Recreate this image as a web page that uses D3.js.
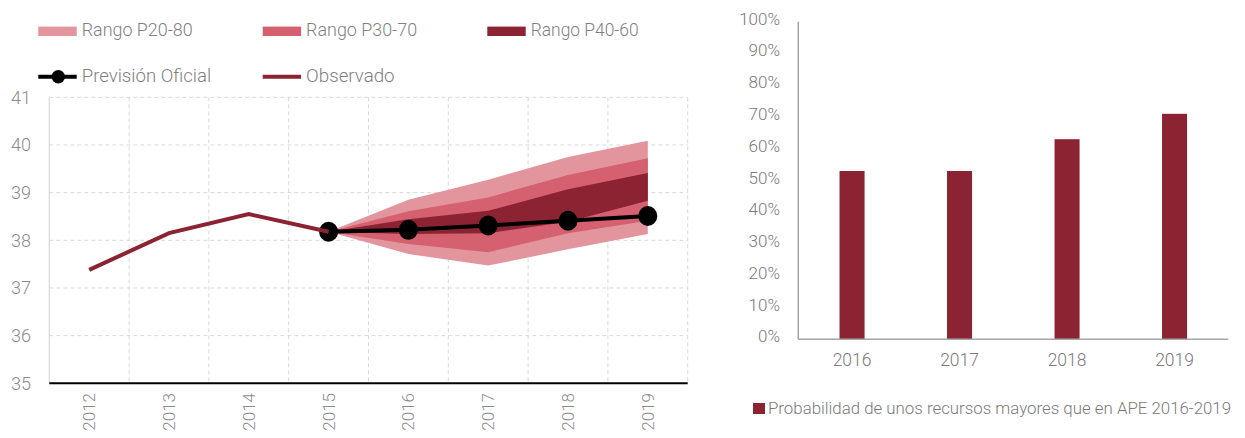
<!DOCTYPE html>
<html>
<head>
<meta charset="utf-8">
<script src="https://cdn.jsdelivr.net/npm/d3@7"></script>
<style>
  html, body { margin: 0; padding: 0; background: #ffffff; }
  svg { display: block; }
  text { font-family: Roboto, "Open Sans", sans-serif; font-weight: 300; fill: #7f7f7f; }
</style>
</head>
<body>
<svg id="chart" width="1245" height="438"></svg>
<script>
// ---------- Data ----------
const years = ["2012", "2013", "2014", "2015", "2016", "2017", "2018", "2019"];
const observedYears = ["2012", "2013", "2014", "2015"];
const observed = [37.38, 38.15, 38.55, 38.18];
const forecastYears = ["2015", "2016", "2017", "2018", "2019"];
const forecast = [38.18, 38.22, 38.31, 38.41, 38.51];
const p20 = [38.18, 37.71, 37.47, 37.81, 38.13];
const p80 = [38.18, 38.85, 39.27, 39.75, 40.09];
const p30 = [38.18, 37.92, 37.75, 38.15, 38.41];
const p70 = [38.18, 38.61, 38.90, 39.37, 39.72];
const p40 = [38.18, 38.13, 38.15, 38.39, 38.83];
const p60 = [38.18, 38.44, 38.62, 39.07, 39.41];
const leftTicks = [35, 36, 37, 38, 39, 40, 41];

const barYears = ["2016", "2017", "2018", "2019"];
const barValues = [0.53, 0.53, 0.63, 0.71];
const rightTicks = [0, 0.1, 0.2, 0.3, 0.4, 0.5, 0.6, 0.7, 0.8, 0.9, 1.0];

const legendLabels = ["Rango P20-80", "Rango P30-70", "Rango P40-60", "Previsión Oficial", "Observado"];
const barLegendLabel = "Probabilidad de unos recursos mayores que en APE 2016-2019";

// ---------- Styles ----------
const C_LIGHT = "#E3959E";
const C_MID = "#D5606F";
const C_DARK = "#8B2332";
const GRID = "#d9d9d9";

const svg = d3.select("#chart");

// ---------- Left chart ----------
const L = { left: 49.3, right: 687.7, top: 97.3, bottom: 383.3 };
const x = d3.scaleBand().domain(years).range([L.left, L.right]).padding(0);
const cx = d => x(d) + x.bandwidth() / 2;
const y = d3.scaleLinear().domain([35, 41]).range([L.bottom, L.top]);

const gL = svg.append("g");

// horizontal grid (dashed)
gL.append("g").selectAll("line").data(leftTicks.filter(t => t > 35)).join("line")
  .attr("x1", L.left).attr("x2", L.right)
  .attr("y1", d => y(d)).attr("y2", d => y(d))
  .attr("stroke", GRID).attr("stroke-width", 1).attr("stroke-dasharray", "4,3");

// vertical grid (band boundaries)
gL.append("g").selectAll("line").data(years.slice(1).concat(["end"])).join("line")
  .attr("x1", d => d === "end" ? L.right : x(d))
  .attr("x2", d => d === "end" ? L.right : x(d))
  .attr("y1", L.top).attr("y2", L.bottom)
  .attr("stroke", GRID).attr("stroke-width", 1).attr("stroke-dasharray", "4,3");

// left border solid
gL.append("line").attr("x1", L.left).attr("x2", L.left).attr("y1", L.top).attr("y2", L.bottom)
  .attr("stroke", GRID).attr("stroke-width", 1.2);

// y tick labels
gL.append("g").selectAll("text").data(leftTicks).join("text")
  .attr("x", 31).attr("y", d => y(d))
  .attr("text-anchor", "end").attr("dominant-baseline", "central")
  .style("font-size", "18px").style("fill", "#8a8a8a")
  .text(d => d);

// x labels rotated
gL.append("g").selectAll("text").data(years).join("text")
  .attr("transform", d => `translate(${cx(d)},393) rotate(-90)`)
  .attr("text-anchor", "end").attr("dominant-baseline", "central")
  .style("font-size", "17px").style("fill", "#8a8a8a")
  .text(d => d);

// bands
function band(lo, hi, color) {
  const area = d3.area()
    .x((d, i) => cx(forecastYears[i]))
    .y0((d, i) => y(lo[i]))
    .y1((d, i) => y(hi[i]));
  gL.append("path").datum(lo).attr("d", area).attr("fill", color);
}
band(p20, p80, C_LIGHT);
band(p30, p70, C_MID);
band(p40, p60, C_DARK);

// forecast line + dots
gL.append("path").datum(forecast)
  .attr("d", d3.line().x((d, i) => cx(forecastYears[i])).y(d => y(d)))
  .attr("fill", "none").attr("stroke", "#000").attr("stroke-width", 4);
gL.append("g").selectAll("ellipse").data(forecast).join("ellipse")
  .attr("cx", (d, i) => cx(forecastYears[i])).attr("cy", d => y(d))
  .attr("rx", 9.5).attr("ry", 10).attr("fill", "#000");

// observed line (drawn on top, ends at the centre of the first dot)
gL.append("path").datum(observed)
  .attr("d", d3.line().x((d, i) => cx(observedYears[i])).y(d => y(d)))
  .attr("fill", "none").attr("stroke", C_DARK).attr("stroke-width", 4);

// bottom axis line
gL.append("line").attr("x1", L.left).attr("x2", L.right).attr("y1", y(35)).attr("y2", y(35))
  .attr("stroke", "#000").attr("stroke-width", 2);

// legend
const legW = [111, 111, 108, 129.5, 88.5];
const legPos = [[38.3, 31.3], [262.7, 31.3], [487.3, 31.3], [38.3, 76.7], [262.7, 76.7]];
const legColors = [C_LIGHT, C_MID, C_DARK];
const gLeg = svg.append("g");
legendLabels.forEach((lab, i) => {
  const [lx, ly] = legPos[i];
  if (i < 3) {
    gLeg.append("rect").attr("x", lx).attr("y", ly - 4.7).attr("width", 38.4).attr("height", 9.4)
      .attr("fill", legColors[i]);
  } else if (i === 3) {
    gLeg.append("line").attr("x1", lx).attr("x2", lx + 38.4).attr("y1", ly).attr("y2", ly)
      .attr("stroke", "#000").attr("stroke-width", 4);
    gLeg.append("circle").attr("cx", lx + 20).attr("cy", ly).attr("r", 6.7).attr("fill", "#000");
  } else {
    gLeg.append("line").attr("x1", lx).attr("x2", lx + 38.4).attr("y1", ly).attr("y2", ly)
      .attr("stroke", C_DARK).attr("stroke-width", 4);
  }
  gLeg.append("text").attr("x", lx + 43.4).attr("y", ly - 1)
    .attr("dominant-baseline", "central")
    .attr("textLength", legW[i]).attr("lengthAdjust", "spacingAndGlyphs")
    .style("font-size", "18.5px").text(lab);
});

// ---------- Right chart ----------
const R = { left: 798.3, right: 1228.3, top: 21.7, bottom: 339.3 };
const xb = d3.scaleBand().domain(barYears).range([R.left, R.right])
  .paddingInner(0.767).paddingOuter(0.3835);
const xc = d3.scaleBand().domain(barYears).range([R.left, R.right]).padding(0);
const yb = d3.scaleLinear().domain([0, 1]).range([R.bottom, R.top]);
const gR = svg.append("g");

gR.append("g").selectAll("rect").data(barValues).join("rect")
  .attr("x", (d, i) => xb(barYears[i])).attr("width", xb.bandwidth())
  .attr("y", d => yb(d)).attr("height", d => yb(0) - yb(d))
  .attr("fill", C_DARK);

gR.append("line").attr("x1", R.left).attr("x2", R.left).attr("y1", R.top).attr("y2", R.bottom)
  .attr("stroke", "#a6a6a6").attr("stroke-width", 1.5);
gR.append("line").attr("x1", R.left).attr("x2", R.right).attr("y1", R.bottom).attr("y2", R.bottom)
  .attr("stroke", "#a6a6a6").attr("stroke-width", 1.5);

gR.append("g").selectAll("text").data(rightTicks).join("text")
  .attr("x", 780).attr("y", d => yb(d) - 3)
  .attr("text-anchor", "end").attr("dominant-baseline", "central")
  .style("font-size", "17px").style("fill", "#7a7a7a")
  .text(d => d3.format(".0%")(d));

gR.append("g").selectAll("text").data(barYears).join("text")
  .attr("x", d => xc(d) + xc.bandwidth() / 2).attr("y", 360)
  .attr("text-anchor", "middle").attr("dominant-baseline", "central")
  .style("font-size", "17.5px").style("fill", "#7a7a7a")
  .text(d => d);

gR.append("rect").attr("x", 753).attr("y", 403).attr("width", 12).attr("height", 11).attr("fill", C_DARK);
gR.append("text").attr("x", 768).attr("y", 408.5)
  .attr("dominant-baseline", "central")
  .attr("textLength", 463).attr("lengthAdjust", "spacingAndGlyphs")
  .style("font-size", "16px").style("fill", "#7a7a7a")
  .text(barLegendLabel);
</script>
</body>
</html>
